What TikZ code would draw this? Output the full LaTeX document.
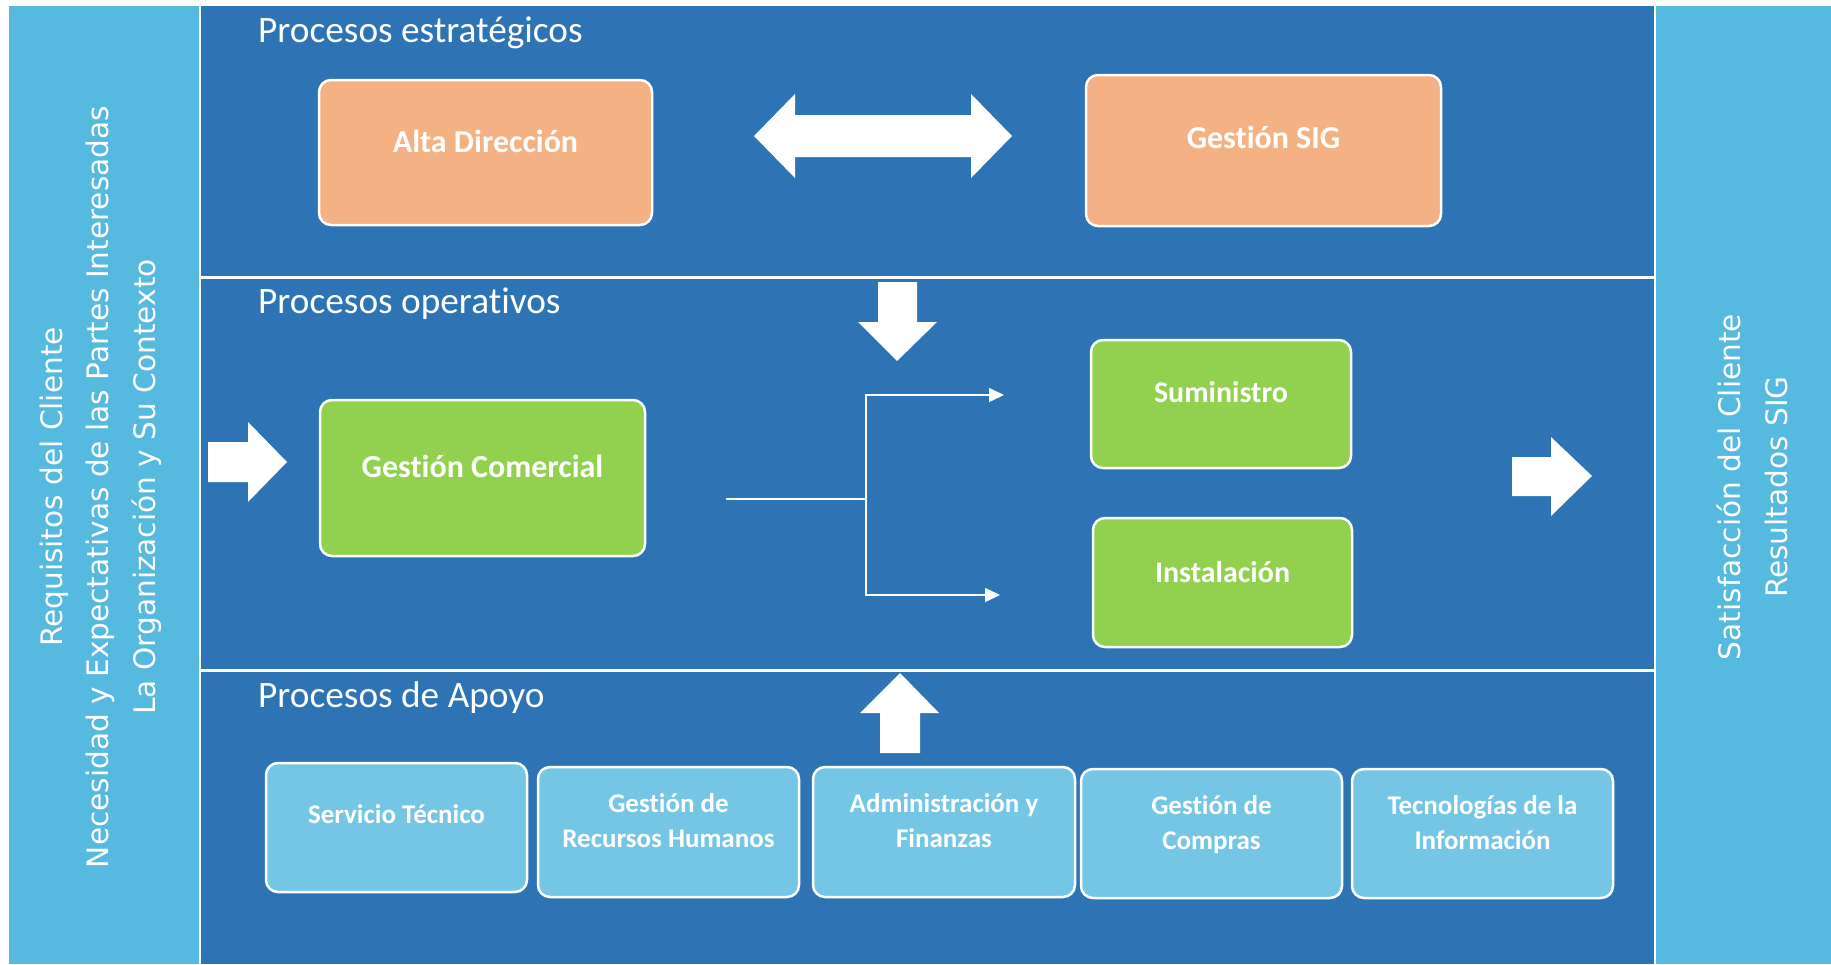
\documentclass[tikz,border=0pt]{standalone}
\usepackage{fontspec}
\setmainfont[Ligatures=NoCommon]{Carlito}
\newfontfamily\sidefont{DejaVu Sans}
\usetikzlibrary{arrows.meta}
\definecolor{mainblue}{HTML}{2E74B5}
\definecolor{panel}{HTML}{56B9DF}
\definecolor{peach}{HTML}{F4B183}
\definecolor{green}{HTML}{92D050}
\definecolor{lightbox}{HTML}{75C6E5}
\begin{document}
\begin{tikzpicture}[x=1pt,y=-1pt,
  box/.style={draw=white, line width=2.5pt, rounded corners=12pt, inner sep=0pt},
  boxlbl/.style={text=white, font=\bfseries\fontsize{32}{37}\selectfont, anchor=base, inner sep=0pt, align=center},
  greenlbl/.style={text=white, font=\bfseries\fontsize{30}{37}\selectfont, anchor=base, inner sep=0pt, align=center},
  smalllbl/.style={text=white, font=\bfseries\fontsize{27}{35}\selectfont, anchor=base, inner sep=0pt, align=center},
  sectitle/.style={text=white, font=\fontsize{37.3}{40}\selectfont, anchor=base west, inner sep=0pt},
  side/.style={text=white, font=\sidefont\fontsize{29.6}{36}\selectfont, anchor=base, rotate=90, inner sep=0pt},
  blockarrow/.style={fill=white, draw=none},
  conn/.style={draw=white, line width=1.5pt},
  tipped/.style={-{Triangle[length=15pt,width=14pt]}}
]
\useasboundingbox (0,0) rectangle (1831,964);
\fill[white] (0,0) rectangle (1831,964);
\fill[panel] (9,6) rectangle (198.5,964);
\fill[panel] (1655.5,6) rectangle (1831,964);
\fill[mainblue] (201,6) rectangle (1653.5,964);
\fill[white] (201,275.5) rectangle (1653.5,278.5);
\fill[white] (201,668.5) rectangle (1653.5,671.5);

% section titles
\node[sectitle] (t1) at (258,42) {Procesos estratégicos};
\node[sectitle] (t2) at (258,313) {Procesos operativos};
\node[sectitle] (t3) at (258,707) {Procesos de Apoyo};

% side panels
\node[side] (l1) at (62,487) {Requisitos del Cliente};
\node[side] (l2) at (108,487) {Necesidad y Expectativas de las Partes Interesadas};
\node[side] (l3) at (155,487) {La Organización y Su Contexto};
\node[side] (r1) at (1740,487) {Satisfacción del Cliente};
\node[side] (r2) at (1787,487) {Resultados SIG};

% strategic
\node[box, fill=peach, minimum width=333pt, minimum height=145pt] (alta) at (485.5,152.5) {};
\node[boxlbl] (altaL) at (485.5,152) {Alta Dirección};
\node[box, fill=peach, minimum width=355pt, minimum height=151pt] (sig) at (1263.5,150.5) {};
\node[boxlbl] (sigL) at (1263.5,148) {Gestión SIG};

% operative
\node[box, fill=green, minimum width=325pt, minimum height=156pt] (gc) at (482.5,478) {};
\node[boxlbl] (gcL) at (482.5,477) {Gestión Comercial};
\node[box, fill=green, minimum width=260pt, minimum height=128pt] (sum) at (1221,404) {};
\node[greenlbl] (sumL) at (1221,402) {Suministro};
\node[box, fill=green, minimum width=259pt, minimum height=129pt] (ins) at (1222.5,582.5) {};
\node[greenlbl] (insL) at (1222.5,582) {Instalación};

% support
\node[box, fill=lightbox, minimum width=261pt, minimum height=129pt] (st) at (396.5,827.5) {};
\node[smalllbl] (stL) at (396.5,823) {Servicio Técnico};
\node[box, fill=lightbox, minimum width=261pt, minimum height=130pt] (rh) at (668.5,832) {};
\node[smalllbl] (rhL) at (668.5,847) {Gestión de\\Recursos Humanos};
\node[box, fill=lightbox, minimum width=262pt, minimum height=130pt] (af) at (944,832) {};
\node[smalllbl] (afL) at (944,847) {Administración y\\Finanzas};
\node[box, fill=lightbox, minimum width=261pt, minimum height=129pt] (gcp) at (1211.5,833.5) {};
\node[smalllbl] (gcpL) at (1211.5,849) {Gestión de\\Compras};
\node[box, fill=lightbox, minimum width=261pt, minimum height=129pt] (ti) at (1482.5,833.5) {};
\node[smalllbl] (tiL) at (1482.5,849) {Tecnologías de la\\Información};

% block arrows
\fill[blockarrow] (754,136) -- (795,94) -- (795,115) -- (971,115) -- (971,94) -- (1012,136) -- (971,178) -- (971,157) -- (795,157) -- (795,178) -- cycle;
\fill[blockarrow] (878,282) -- (917,282) -- (917,322) -- (937,322) -- (897,361) -- (858,322) -- (878,322) -- cycle;
\fill[blockarrow] (880,753) -- (920,753) -- (920,713) -- (939,713) -- (900,673) -- (860,713) -- (880,713) -- cycle;
\fill[blockarrow] (208,442) -- (248,442) -- (248,422) -- (287,462) -- (248,502) -- (248,482) -- (208,482) -- cycle;
\fill[blockarrow] (1512,457) -- (1551,457) -- (1551,437) -- (1592,476) -- (1551,516) -- (1551,496) -- (1512,496) -- cycle;

% connectors
\coordinate (gcout) at (726,499);
\coordinate (junc) at (866,499);
\coordinate (toSum) at (1004,395);
\coordinate (toIns) at (1000,595);
\draw[conn] (gcout) -- (junc);
\draw[conn,tipped] (junc) |- (toSum);
\draw[conn,tipped] (junc) |- (toIns);
\end{tikzpicture}
\end{document}
